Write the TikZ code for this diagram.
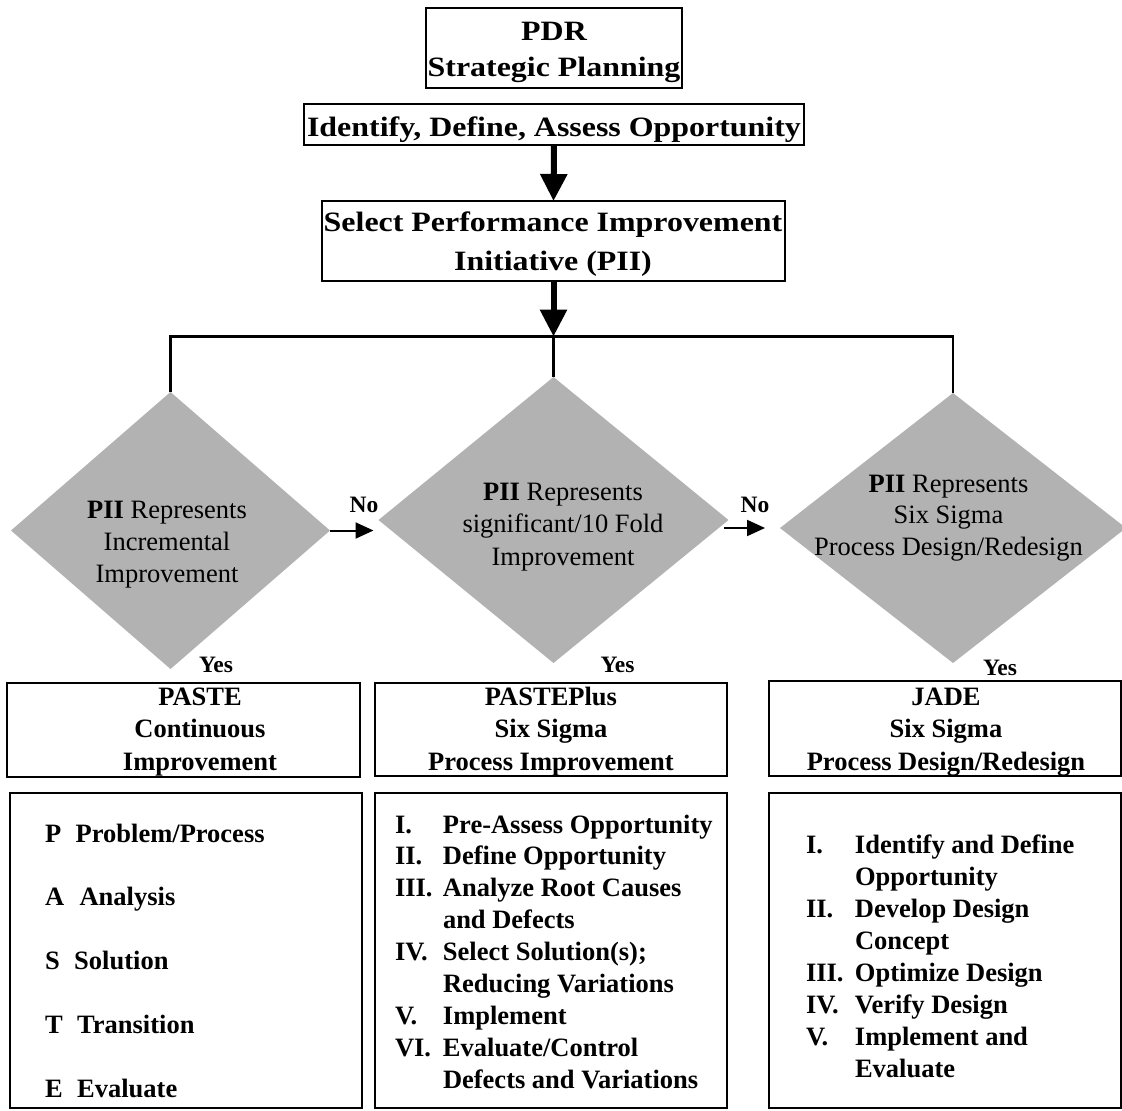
\documentclass[tikz,border=0pt]{standalone}
\usepackage{fontspec}
\setmainfont{Liberation Serif}
\newfontfamily\titlefont{Liberation Serif}[FakeStretch=1.14]
\usetikzlibrary{arrows.meta,shapes.geometric}
\definecolor{diagray}{RGB}{178,178,178}
\newlength{\numw}
\newcommand{\mycl}[1]{\hbox to 0pt{\hss#1\hss}}
\newcommand{\myli}[2]{\hbox{\hbox to \numw{#1\hfil}#2}}
\begin{document}
\begin{tikzpicture}[x=1pt,y=-1pt,
  box/.style={draw, line width=2pt, inner sep=0pt, outer sep=0pt},
  dia/.style={shape=diamond, fill=diagray, draw=none, inner sep=0pt, outer sep=0pt},
  txt/.style={inner sep=0pt, outer sep=0pt, anchor=base},
  ltxt/.style={inner sep=0pt, outer sep=0pt, anchor=base west},
  thickarrow/.style={line width=6pt, -{Triangle[width=26pt,length=27pt]}},
  noarrow/.style={line width=2pt, -{Triangle[width=16pt,length=18pt]}},
  conn/.style={line width=2.5pt},
  titlef/.style={font=\titlefont\bfseries\fontsize{28}{36}\selectfont},
  diaf/.style={font=\fontsize{26.5}{32}\selectfont},
  boxf/.style={font=\bfseries\fontsize{26.5}{32}\selectfont},
  yesf/.style={font=\bfseries\fontsize{23.5}{28}\selectfont}
]
\useasboundingbox (0,0) rectangle (1122,1111);

% top boxes
\node[box, minimum width=256pt, minimum height=80pt] (pdr) at (554,48) {};
\node[txt, titlef] (pdrT) at (554,40.7) {\vtop{\baselineskip=36pt \mycl{PDR}\mycl{Strategic Planning}}};

\node[box, minimum width=500pt, minimum height=41pt] (ident) at (554,124.5) {};
\node[txt, titlef] (identT) at (554,136.5) {Identify, Define, Assess Opportunity};

\node[box, minimum width=463pt, minimum height=80pt] (sel) at (553.5,241) {};
\node[txt, titlef] (selT) at (553,231.5) {\vtop{\baselineskip=39pt \mycl{Select Performance Improvement}\mycl{Initiative (PII)}}};

\coordinate (junc) at (553.5,336.5);

% diamonds
\node[dia, minimum width=319pt, minimum height=277pt] (d1) at (170.5,530.5) {};
\node[dia, minimum width=350pt, minimum height=286pt] (d2) at (553.5,520) {};
\node[dia, minimum width=346pt, minimum height=270pt] (d3) at (953,528) {};

\node[txt, diaf] (d1T) at (167,518) {\vtop{\baselineskip=32pt \mycl{\textbf{PII} Represents}\mycl{Incremental}\mycl{Improvement}}};
\node[txt, diaf] (d2T) at (563,500) {\vtop{\baselineskip=32.5pt \mycl{\textbf{PII} Represents}\mycl{significant/10 Fold}\mycl{Improvement}}};
\node[txt, diaf] (d3T) at (948.5,492) {\vtop{\baselineskip=31.5pt \mycl{\textbf{PII} Represents}\mycl{Six Sigma}\mycl{Process Design/Redesign}}};

% connectors
\draw[thickarrow] (ident.south) -- (sel.north);
\draw[thickarrow] (sel.south) -- (junc);
\draw[conn] (d1.north) |- (junc);
\draw[conn] (d3.north) |- (junc);
\draw[conn] (junc) -- (d2.north);

\draw[noarrow, shorten >=5pt] (d1.east) -- (d1.east -| d2.west);
\draw[noarrow, shorten <=-5pt, shorten >=15pt] (d2.east |- d3.west) -- (d3.west);

\node[txt, yesf] (no1) at (364,512) {No};
\node[txt, yesf] (no2) at (755,512) {No};
\node[txt, yesf] (yes1) at (216,672) {Yes};
\node[txt, yesf] (yes2) at (617.5,672) {Yes};
\node[txt, yesf] (yes3) at (1000,675) {Yes};

% bottom title boxes
\node[box, minimum width=353pt, minimum height=94pt] (b1t) at (183.5,730) {};
\node[box, minimum width=352pt, minimum height=93pt] (b2t) at (551,729.5) {};
\node[box, minimum width=351.5pt, minimum height=95pt] (b3t) at (944.75,728.5) {};

\node[txt, boxf] (b1tT) at (200,705) {\vtop{\baselineskip=32.5pt \mycl{PASTE}\mycl{Continuous}\mycl{Improvement}}};
\node[txt, boxf] (b2tT) at (551,705) {\vtop{\baselineskip=32.5pt \mycl{PASTEPlus}\mycl{Six Sigma}\mycl{Process Improvement}}};
\node[txt, boxf] (b3tT) at (946,705) {\vtop{\baselineskip=32.5pt \mycl{JADE}\mycl{Six Sigma}\mycl{Process Design/Redesign}}};

% bottom content boxes
\node[box, minimum width=352pt, minimum height=315pt] (b1c) at (186,950.5) {};
\node[box, minimum width=352pt, minimum height=315pt] (b2c) at (551,950.5) {};
\node[box, minimum width=351.5pt, minimum height=315pt] (b3c) at (944.75,950.5) {};

\node[ltxt, boxf] (b1cT) at (45,842) {\vtop{\baselineskip=63.8pt
  \hbox{P\hspace{14.5pt}Problem/Process}
  \hbox{A\hspace{15.5pt}Analysis}
  \hbox{S\hspace{14.5pt}Solution}
  \hbox{T\hspace{14.5pt}Transition}
  \hbox{E\hspace{14.5pt}Evaluate}}};

\node[ltxt, boxf] (b2cT) at (395,833) {\setlength{\numw}{48pt}\vtop{\baselineskip=31.9pt
  \myli{I.}{Pre-Assess Opportunity}
  \myli{II.}{Define Opportunity}
  \myli{III.}{Analyze Root Causes}
  \myli{}{and Defects}
  \myli{IV.}{Select Solution(s);}
  \myli{}{Reducing Variations}
  \myli{V.}{Implement}
  \myli{VI.}{Evaluate/Control}
  \myli{}{Defects and Variations}}};

\node[ltxt, boxf] (b3cT) at (806,853) {\setlength{\numw}{49pt}\vtop{\baselineskip=32pt
  \myli{I.}{Identify and Define}
  \myli{}{Opportunity}
  \myli{II.}{Develop Design}
  \myli{}{Concept}
  \myli{III.}{Optimize Design}
  \myli{IV.}{Verify Design}
  \myli{V.}{Implement and}
  \myli{}{Evaluate}}};
\end{tikzpicture}
\end{document}
